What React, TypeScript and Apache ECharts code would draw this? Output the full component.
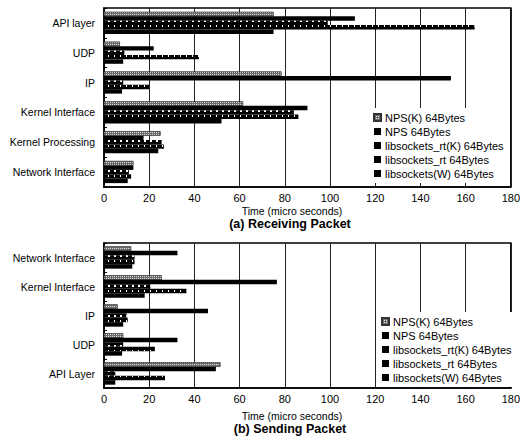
import React, { useEffect, useRef } from "react";
import * as echarts from "echarts";

const seriesNames = [
  "NPS(K) 64Bytes",
  "NPS 64Bytes",
  "libsockets_rt(K) 64Bytes",
  "libsockets_rt 64Bytes",
  "libsockets(W) 64Bytes",
];

const rxCategories = ["API layer", "UDP", "IP", "Kernel Interface", "Kernel Processing", "Network Interface"];
const rxNpsK = [75, 7, 78.5, 61.5, 25, 13];
const rxNps = [111, 22, 153.5, 90, 17.5, 13];
const rxRtK = [99, 9, 8.5, 84, 25.5, 11];
const rxRt = [164, 42, 20, 86, 26.5, 12];
const rxW = [75, 8.5, 8, 52, 24, 10.5];

const txCategories = ["Network Interface", "Kernel Interface", "IP", "UDP", "API Layer"];
const txNpsK = [12, 25.5, 6, 8.5, 51.5];
const txNps = [32.5, 76.5, 46, 32.5, 49.5];
const txRtK = [13.5, 20.5, 10, 8.5, 5];
const txRt = [13.5, 36.5, 10.5, 22.5, 27];
const txW = [12.5, 18, 8.5, 8, 5];

const xTicks = { min: 0, max: 180, interval: 20 };

const FONT = "Liberation Sans";

const styles: any[] = [
  {
    color: "#6e6e6e",
    borderColor: "#333",
    borderWidth: 0.5,
    decal: { symbol: "rect", symbolSize: 1, color: "#dcdcdc", dashArrayX: [1, 1], dashArrayY: [1, 1], rotation: 0 },
  },
  { color: "#000" },
  {
    color: "#000",
    decal: { symbol: "rect", symbolSize: 1, color: "#fff", dashArrayX: [2, 4], dashArrayY: [2, 3], rotation: 0 },
  },
  {
    color: "#000",
    decal: { symbol: "rect", symbolSize: 1, color: "#fff", dashArrayX: [1, 5], dashArrayY: [2, 3], rotation: 0 },
  },
  { color: "#000" },
];

const plainDecal = { symbol: "rect", symbolSize: 1, color: "#000", dashArrayX: [1, 0], dashArrayY: [1, 0] };

export default function App() {
  const ref = useRef<HTMLDivElement>(null);
  useEffect(() => {
    if (!ref.current) return;
    const chart = echarts.init(ref.current, null, { renderer: "svg" });
    const rxData = [rxNpsK, rxNps, rxRtK, rxRt, rxW];
    const txData = [txNpsK, txNps, txRtK, txRt, txW];

    const mkX = (gi: number) => ({
      type: "value",
      gridIndex: gi,
      min: xTicks.min,
      max: xTicks.max,
      interval: xTicks.interval,
      axisLine: { show: true, lineStyle: { color: "#000", width: 1.5 } },
      axisTick: { show: false },
      axisLabel: { color: "#000", fontSize: 11, fontFamily: FONT, margin: 5 },
      splitLine: { show: true, lineStyle: { color: "#222", width: 1 } },
    });
    const mkY = (gi: number, cats: string[]) => ({
      type: "category",
      gridIndex: gi,
      data: cats,
      inverse: true,
      axisLine: { show: true, lineStyle: { color: "#000", width: 1.5 } },
      axisTick: { show: true, inside: true, length: 3, lineStyle: { color: "#000" } },
      axisLabel: { color: "#000", fontSize: 10.5, fontFamily: FONT, margin: 9 },
      splitLine: { show: false },
    });

    const series: any[] = [];
    rxData.forEach((d, i) =>
      series.push({
        type: "bar",
        name: seriesNames[i],
        xAxisIndex: 0,
        yAxisIndex: 0,
        data: d,
        barGap: "0%",
        barCategoryGap: "26%",
        itemStyle: styles[i],
      })
    );
    txData.forEach((d, i) =>
      series.push({
        type: "bar",
        name: seriesNames[i],
        xAxisIndex: 1,
        yAxisIndex: 1,
        data: d,
        barGap: "0%",
        barCategoryGap: "23%",
        itemStyle: styles[i],
      })
    );

    const legendData = seriesNames.map((n, i) =>
      i === 0 ? { name: n } : { name: n, itemStyle: { color: "#000", decal: plainDecal } }
    );

    const mkLegend = (left: number, top: number) => ({
      show: true,
      data: legendData,
      orient: "vertical",
      left,
      top,
      icon: "rect",
      itemWidth: 7,
      itemHeight: 7,
      itemGap: 1,
      padding: [3, 3, 3, 3],
      backgroundColor: "#fff",
      selectedMode: false,
      textStyle: { color: "#000", fontSize: 11, fontFamily: FONT, lineHeight: 13, padding: [0, 0, 0, -1] },
    });

    chart.setOption({
      animation: false,
      textStyle: { fontFamily: FONT },
      grid: [
        { left: 104, right: 12, top: 8, height: 179, show: true, borderColor: "#000", borderWidth: 1.5, containLabel: false },
        { left: 104, right: 12, top: 243, height: 145, show: true, borderColor: "#000", borderWidth: 1.5, containLabel: false },
      ],
      xAxis: [mkX(0), mkX(1)],
      yAxis: [mkY(0, rxCategories), mkY(1, txCategories)],
      legend: [mkLegend(370, 108), mkLegend(378, 312)],
      series,
      graphic: [
        { type: "text", x: 292, y: 211, style: { text: "Time (micro seconds)", fontSize: 10.5, fontFamily: FONT, fill: "#000", align: "center", verticalAlign: "middle" } },
        { type: "text", x: 290, y: 223.5, style: { text: "(a) Receiving Packet", fontSize: 12.5, fontWeight: "bold", fontFamily: FONT, fill: "#000", align: "center", verticalAlign: "middle" } },
        { type: "text", x: 292, y: 416, style: { text: "Time (micro seconds)", fontSize: 10.5, fontFamily: FONT, fill: "#000", align: "center", verticalAlign: "middle" } },
        { type: "text", x: 290, y: 429, style: { text: "(b) Sending Packet", fontSize: 12.5, fontWeight: "bold", fontFamily: FONT, fill: "#000", align: "center", verticalAlign: "middle" } },
      ],
    });
    return () => chart.dispose();
  }, []);
  return <div ref={ref} style={{ width: 523, height: 436, position: "absolute", left: 0, top: 0, background: "#fff" }} />;
}
